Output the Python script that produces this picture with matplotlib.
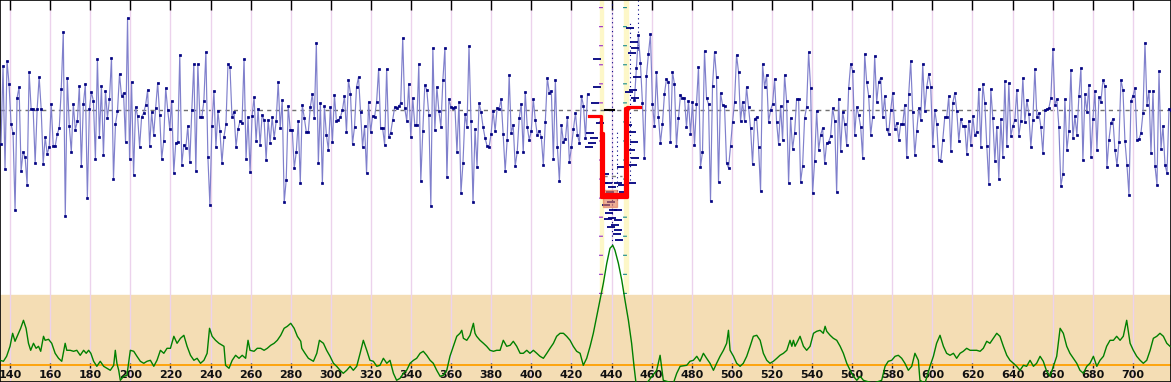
import matplotlib.pyplot as plt
import numpy as np

# signal trace (deviation from the dashed reference level), left and right of the event
left_vals = [
    -34, 44, -59, 49, 26, -14, -23, -100, 12, 23,
    -61, -42, -47, -75, 38, 1, 1, -53, 1, 33,
    1, -54, -27, -44, -37, 6, -36, -36, -24, -18,
    21, 78, -106, 32, -16, -42, 6, -20, -11, 24,
    -56, 6, 26, -88, 1, 18, 9, -49, 51, -27,
    24, -45, 19, -8, 11, 52, -69, -14, -1, 36,
    14, 17, -32, 92, -49, 28, -65, 3, -6, -37,
    -7, -3, 5, 20, -36, -2, -25, 2, 27, -5,
    -49, -31, 22, 0, -19, 9, -63, -33, -32, 55,
    -55, -35, -38, -16, -52, 0, 46, -61, 46, -7,
    -7, 9, 58, -47, -95, -16, 19, -37, -1, -21,
    -53, -27, -14, 46, 43, -7, -2, -37, -19, -11,
    -13, 51, -49, -7, -62, -6, 13, -31, 1, -35,
    -5, -10, -50, -10, -33, -7, -28, -11, 28, -18,
    10, -92, -70, 4, -20, -20, -58, -42, -11, -73,
    5, -8, -22, -22, 3, 16, -8, 67, -53, 7,
    -73, 4, -25, -40, 3, -32, 15, -11, -10, -7,
    0, 14, -22, 30, 16, -34, -17, 23, 33, -2,
    -37, -16, -63, 8, -22, -6, -7, 8, 41, -18,
    -18, -35, 41, -27, -23, -10, 3,
    2, 4, 7, 72, 2, -11, 26, -27, 12, -15,
    -15, 46, -71, -21, 25, 20, -5, -96, 62, -20,
    23, -1, -17, 30, 62, -67, 11, 3, 2, 3,
    -42, 8, -83, -53, -4, -17, 64, -11, -92, -19,
    -57, 7, -2, -17, -28, -36, -37, -24, -1, -21,
    2, 1, 11, -24, -61, -30, 35, -23, -15, -56,
    -42, -8, 6, -42, 18, -17, -30, -21, 11, -10,
    -25, -21, -27, -55, -12, 32, 17, 19, -49, 30,
    -37, -71, -15, -32, -29, -7, -52, -37, -19, -3,
    -25, -33, 14, 4, -28, 16,
]
right_vals = [
    10, 42, 75, 47, 7, -48, 34, 56, 76, 6,
    -16, 38, -7, -33, -14, 16, 31, 28, -32, 38,
    26, -36, -8, 15, 12, 12, -17, 9, -24, 8,
    -35, 6, 43, -57, -42, 59, 12, 6, -91, 24,
    58, 33, -72, 17, 5, 4, -53, -58, -36, -12,
    8, 55, 38, -11, 8, -11, 23, 3, -18, -54,
    -9, -7, -37, -81, 46, 23, 35, -12, 0, 6,
    31, -12, -34, 4, -30,
    35, 9, -73, -8, -39, -23, 11, 11, -72, -56,
    -8, 3, 58, 22, -83, -51, -1, -40, -25, -18,
    -53, -33, -32, -26, 2, -11, -82, 11, -41, -2,
    -14, -35, 22, 46, 39, -25, 3, -5, -17, -48,
    56, 28, 14, -25, -7, 54, 8, 28, 32, -7,
    14, -19, -24, 0, 17, -19, -13, -30, -14, -14,
    5, -47, 16, 49, -2, -45, -21, 2, -10, 46,
    -1, 23, 36, 23, -36, 0, -14, -50, -51, -30,
    -7, -7, 14, -41, 7, 17, -1, -31, -9, -16,
    -16, -44, -11, -35, -6, -25, -22, 21,
    -37, 26, 7, -36, -74, 21, -8, -51, -17, -69,
    -9, -47, 29, -36, 27, -26, -16, -10, 20, -26,
    -11, 32, -12, 10, -4, -37, -10, 41, -7, -3,
    -17, -43, 0, 1, 2, 12, 61, 5, 11, -17,
    -76, -64, 11, -40, -21, 40, -28, -6, -25, 14,
    42, -50, 16, -2, 25, -47, -9, 19, -40, 13,
    8, 30, 24, -57, -30, -13, -9, -40, -55, -32,
    30, 20, -31, -55, -85, 9, 14, 22, -30, -29,
    -23, -3, 67, 5, 19, -43, 19, -56, -75, 39,
    -39, -16, -55, -63, 1, 0,
]
left_range = (135.5, 428.0)
right_range = (451.4, 719.0)

# scattered readings inside the event window
event_x = [432.6, 432.6, 429.3, 430.1, 428.8, 431.0, 431.8, 434.3, 436.8, 436.4,
           438.4, 440.1, 439.3, 441.4, 437.6, 439.7, 442.6, 437.1, 440.9, 438.7,
           443.1, 440.1, 438.1, 443.4, 441.7, 439.7, 443.4, 442.6, 443.9, 444.7,
           443.4, 445.4, 445.9, 450.1, 449.2, 451.4, 451.7, 452.5, 450.9, 448.7,
           451.7, 448.1, 450.1, 451.4, 449.7, 451.7, 450.9, 450.4]
event_v = [51, 23, -23, -33, -37, -28, 7, -13, -64, -73,
           -73, -77, -82, -85, -87, -92, -88, -95, -100, -103,
           -100, -108, -109, -110, -115, -117, -120, -124, -130, -57,
           -73, -75, -82, 57, 82, 68, 62, 33, 20, 18,
           12, -15, -22, -32, -40, -48, -55, -73]

# fitted step levels
step_a_x = [428.8, 434.5, 434.5, 447.6, 447.6, 454.2]
step_a_v = [-6, -6, -87, -87, 3, 3]
step_b_x = [434.5, 435.5, 435.5, 446.5, 446.5, 448.0]
step_b_v = [-23, -23, -84, -84, 2, 2]

# lower trace
green_x = [135.0, 136.7, 138.3, 140.0, 141.3, 142.5, 144.2, 145.3, 146.7, 148.0,
           149.2, 150.3, 151.7, 153.0, 154.2, 155.3, 156.7, 157.5, 159.2, 160.8,
           162.5, 164.2, 165.8, 167.5, 168.3, 170.0, 171.7, 173.3, 175.0, 176.7,
           178.0, 179.2, 180.3, 181.7, 183.3, 185.0, 186.7, 188.3, 190.0, 191.7,
           192.5, 193.3, 194.2, 195.0, 196.7, 198.3, 200.0, 201.7, 203.3, 205.0,
           206.7, 208.3, 210.0, 211.7, 213.3, 215.0, 216.7, 218.3, 220.0, 221.7,
           223.3, 225.0, 226.7, 228.3, 230.0, 231.7, 233.3, 235.0, 236.7, 238.3,
           239.5, 240.8, 242.5, 244.2, 245.8, 246.7, 247.5, 249.2, 250.8, 252.5,
           254.2, 255.8, 257.5, 258.7, 259.7, 261.7, 263.3, 265.0, 266.7, 268.3,
           270.0, 271.7, 273.3, 275.0, 276.7, 278.3, 280.0, 281.7, 283.3, 285.0,
           285.5, 287.1, 288.8, 291.3, 293.0, 294.3, 296.3, 297.9, 299.6, 301.3,
           302.9, 304.6, 306.2, 307.9, 309.6, 311.2, 312.9, 314.6, 316.2, 317.9,
           319.5, 321.2, 322.9, 324.5, 326.2, 327.9, 329.5, 331.2, 332.8, 334.5,
           336.2, 337.8, 339.5, 341.2, 342.8, 344.5, 346.1, 347.8, 349.5, 351.1,
           352.8, 354.5, 356.1, 357.8, 359.4, 361.1, 362.8, 364.4, 365.3, 366.1,
           367.8, 369.4, 371.1, 371.9, 372.7, 374.4, 376.1, 377.7, 379.4, 381.1,
           382.7, 384.4, 386.0, 387.7, 389.4, 391.0, 392.7, 394.4, 396.0, 397.7,
           399.3, 401.0, 402.7, 404.3, 406.0, 407.7, 409.3, 411.0, 412.6, 414.3,
           416.0, 417.6, 419.3, 420.9, 422.6, 424.3, 425.9, 427.6, 429.3, 430.9,
           432.6, 434.2, 435.9, 437.6, 439.2, 440.6, 441.7, 443.4, 445.1, 446.7,
           448.4, 450.0, 451.2, 452.2, 457.5, 462.5, 464.2, 465.8, 470.8, 472.5,
           474.2, 477.5, 479.1, 480.8, 482.5, 484.1, 485.8, 487.4, 489.1, 490.8,
           492.4, 494.1, 495.8, 497.4, 498.3, 499.1, 500.8, 502.4, 504.1, 505.7,
           507.4, 509.1, 510.7, 512.4, 514.1, 515.7, 517.4, 519.0, 520.7, 522.4,
           524.0, 525.7, 527.4, 529.0, 529.9, 530.7, 531.5, 532.3, 534.0, 535.7,
           537.3, 539.0, 540.7, 542.3, 544.0, 545.6, 546.5, 547.3, 549.0, 550.6,
           552.3, 554.0, 555.6, 557.3, 559.0, 560.6, 562.3, 564.0, 565.6, 570.5,
           574.7, 576.4, 578.0, 579.7, 581.4, 583.0, 584.7, 586.3, 588.0, 589.7,
           591.3, 593.0, 593.8, 596.3, 598.8, 600.5, 602.1, 603.8, 605.5, 607.1,
           608.8, 610.5, 612.1, 613.8, 615.4, 617.1, 618.8, 620.4, 622.1, 623.8,
           625.4, 627.1, 628.7, 630.4, 632.1, 633.7, 635.4, 637.1, 638.7, 640.4,
           642.0, 643.7, 645.4, 647.0, 648.7, 650.4, 652.0, 653.7, 655.3, 657.0,
           658.7, 662.0, 663.7, 665.3, 667.0, 668.6, 670.3, 672.0, 673.6, 675.3,
           677.0, 678.6, 680.3, 682.0, 683.6, 685.3, 686.9, 688.6, 690.3, 691.9,
           693.6, 695.2, 696.9, 698.6, 700.2, 701.9, 703.6, 705.2, 706.9, 708.6,
           710.2, 711.9, 713.5, 715.2, 716.9, 718.5]
green_v = [5, 4, 9, 19, 32, 24, 32, 37, 45, 37,
           22, 15, 22, 17, 19, 14, 29, 25, 26, 22,
           12, 7, 4, 22, 15, 15, 14, 15, 10, 15,
           12, 15, 12, 4, -1, 4, -1, -3, -5, 0,
           15, 2, -5, -15, -11, -10, 15, 14, 9, 4,
           2, 4, 5, -1, 5, 15, 12, 17, 17, 29,
           22, 27, 30, 19, 10, 5, 7, 2, 5, 12,
           37, 29, 25, 22, 20, 19, 0, -3, 5, 10,
           7, 10, 7, 25, 15, 14, 17, 17, 15, 17,
           20, 22, 25, 30, 37, 39, 42, 37, 29, 24,
           17, 12, 7, 4, 12, 25, 22, 15, 9, 2,
           -1, -5, -8, -5, -1, -5, -1, 12, 25, 15,
           5, 4, -1, 0, 7, 2, 5, -8, -15, -13,
           -8, -5, 2, 5, 7, 12, 14, 10, 5, 2,
           -5, -11, -10, -5, 9, 19, 29, 32, 35, 27,
           25, 30, 42, 32, 29, 25, 22, 19, 15, 14,
           15, 15, 25, 19, 20, 24, 19, 12, 12, 15,
           12, 15, 12, 9, 7, 12, 17, 22, 29, 32,
           32, 29, 25, 19, 14, 12, 0, 7, 19, 32,
           49, 65, 82, 102, 117, 120, 115, 102, 85, 65,
           45, 22, -1, -18, -18, -5, 10, -15, -18, -8,
           -1, 0, 4, 5, 9, 4, 12, 7, 2, -5,
           2, 9, 15, 22, 35, 15, 9, 2, -1, 2,
           9, 19, 29, 30, 25, 12, 5, 2, 4, 7,
           10, 12, 15, 25, 19, 25, 19, 22, 29, 19,
           15, 19, 32, 34, 35, 32, 39, 34, 30, 27,
           25, 19, 12, 2, -5, -11, -15, -11, -15, -18,
           -15, -1, 4, 5, 9, 10, 7, 2, -5, -1,
           12, 5, -15, -18, -1, 9, 22, 30, 19, 12,
           10, 12, 7, 12, 14, 17, 15, 15, 15, 14,
           17, 24, 22, 27, 32, 29, 19, 10, 5, 2,
           -1, -5, 0, -1, 5, -1, 2, 9, 4, -6,
           -11, 9, 37, 32, 19, 12, 7, 2, -5, -8,
           -1, 2, 9, -1, 5, 9, 19, 25, 25, 29,
           25, 29, 45, 22, 15, 9, 5, 2, 5, 15,
           27, 29, 32, 29, 22, 19]

tick_values = list(range(140, 720, 20))

# vertical layout (in figure pixels from the bottom)
blue_zero = 272
green_zero = 16.7
band_top = 87

fig = plt.figure(figsize=(11.71, 3.82), dpi=100)
ax = fig.add_axes([0, 0, 1, 1])
ax.set_xlim(135, 719)
ax.set_ylim(0, 382)

ax.axhspan(0, band_top, color='#f4ddb4', zorder=0)
ax.set_xticks(tick_values)
ax.grid(axis='x', color='#ecd2ec', lw=1, zorder=0.5)
ax.set_yticks([])
ax.tick_params(axis='x', bottom=False, top=True, direction='in', length=7.5,
               width=1, labelbottom=False, labeltop=False)
for sp in ax.spines.values():
    sp.set_color('black')
    sp.set_linewidth(1.2)

# event window highlights
ax.axvspan(434.3, 435.5, ymin=(382 - 293) / 382, ymax=1, color='#fdf7c8', zorder=0.6)
ax.axvspan(446.2, 448.0, ymin=(382 - 293) / 382, ymax=1, color='#fdf7c8', zorder=0.6)
ax.axvline(434.9, ymin=0.23, ymax=1, color='#9933cc', lw=2.8, ls=(0, (0.3, 4.6)), zorder=1)
ax.axvline(446.6, ymin=0.23, ymax=1, color='#209090', lw=2.8, ls=(0, (0.3, 4.6)), zorder=1)
ax.vlines([440.0, 453.4, 442.6, 449.0], [blue_zero - 135, blue_zero + 60, blue_zero - 90, blue_zero - 70],
          [382, 382, blue_zero - 20, blue_zero + 90], color='#000080', lw=0.8, ls=(0, (1, 3)), zorder=2)

# reference level
ax.axhline(blue_zero, color='#707070', lw=1, ls=(0, (3, 3)), zorder=1)
ax.plot([436.7, 441.3], [blue_zero, blue_zero], color='black', lw=1.5, zorder=3)
ax.plot([435.5, 445.0], [blue_zero - 66, blue_zero - 66], color='#808080', lw=1, ls=(0, (3, 3)), zorder=3)

xl = np.linspace(*left_range, len(left_vals))
xr = np.linspace(*right_range, len(right_vals))
for xs, vs in [(xl, left_vals), (xr, right_vals)]:
    ax.plot(xs, blue_zero + np.array(vs), color='#8080cc', lw=0.85, marker='s', ms=2.0,
            mfc='#000080', mec='#000080', mew=0.5, zorder=3)
ax.plot(event_x, blue_zero + np.array(event_v), ls='none', marker='_', ms=6, mew=1.3,
        color='#00007f', zorder=3)

ax.add_patch(plt.Rectangle((435.7, blue_zero - 97), 7.0, 17, color='#e07850', alpha=0.6, zorder=3.5))
ax.plot(step_a_x, blue_zero + np.array(step_a_v), color='#ff0000', lw=2.3, zorder=4)
ax.plot(step_b_x, blue_zero + np.array(step_b_v), color='#ff0000', lw=2.3, zorder=4)

# lower panel
for t in tick_values:
    ax.text(t, 6.5, str(t), ha='center', va='center', fontsize=8, fontweight='bold',
            color='#101010', zorder=2)
ax.vlines(tick_values, green_zero - 2.5, green_zero + 2.5, color='#202020', lw=1, zorder=2)
ax.axhline(green_zero, color='#ffa000', lw=1.3, zorder=2)
ax.plot(green_x, green_zero + np.array(green_v), color='#008000', lw=1, zorder=3)

fig.savefig('out.png', dpi=100)
